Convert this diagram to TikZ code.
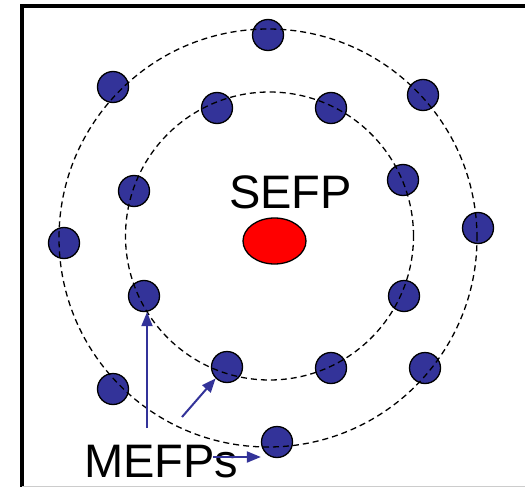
\documentclass[tikz,border=0pt]{standalone}
\usepackage{fontspec}
\setmainfont{Liberation Sans}
\usetikzlibrary{arrows.meta,shapes.geometric}
\definecolor{mefp}{HTML}{333399}
\begin{document}
\begin{tikzpicture}[x=1pt,y=-1pt,
  particle/.style={circle,draw=black,line width=1.3pt,fill=mefp,minimum size=31pt,inner sep=0pt},
  orbit/.style={circle,draw=black,line width=1.3pt,dash pattern=on 6pt off 4pt,inner sep=0pt},
  pointer/.style={draw=mefp,line width=2pt,-{Triangle[length=14pt,width=11pt]}},
  bigtext/.style={font=\fontsize{47}{52}\selectfont,inner sep=0pt}]
\useasboundingbox (0,0) rectangle (525,487);
% frame
\draw[line width=4pt] (22,487) -- (22,6) -- (525,6);
\draw[gray!40,line width=1pt] (22,486) -- (525,486);
% outer particles
\node[particle] (o1) at (268,35) {};
\node[particle] (o2) at (113,87) {};
\node[particle] (o3) at (423,95) {};
\node[particle] (o4) at (64,243) {};
\node[particle] (o5) at (478,228) {};
\node[particle] (o6) at (113,389) {};
\node[particle] (o7) at (425,368) {};
\node[particle] (o8) at (277,442) {};
% inner particles
\node[particle] (i1) at (217,108) {};
\node[particle] (i2) at (331,108) {};
\node[particle] (i3) at (134,191) {};
\node[particle] (i4) at (403,180) {};
\node[particle] (i5) at (144,296) {};
\node[particle] (i6) at (404,296) {};
\node[particle] (i7) at (227,367) {};
\node[particle] (i8) at (331,368) {};
% orbits
\node[orbit,minimum size=418pt] (outer) at (268,238) {};
\node[orbit,minimum size=288pt] (inner) at (269.5,236) {};
% SEFP
\node[ellipse,draw=black,line width=1.3pt,fill=red,minimum width=63pt,minimum height=46pt,inner sep=0pt] (sefp) at (274.5,241) {};
\node[bigtext,anchor=base west] (sefplabel) at (229,208) {SEFP};
% MEFPs
\node[bigtext,anchor=base west] (mefps) at (84,477) {MEFPs};
\coordinate (a1) at (147,428);
\coordinate (a2) at (182,417);
\coordinate (a3) at (213,457);
\draw[pointer] (a1) -- (i5.south -| a1);
\draw[pointer] (a2) -- (i7.south west);
\draw[pointer] (a3) -- (o8.west |- a3);
\end{tikzpicture}
\end{document}
